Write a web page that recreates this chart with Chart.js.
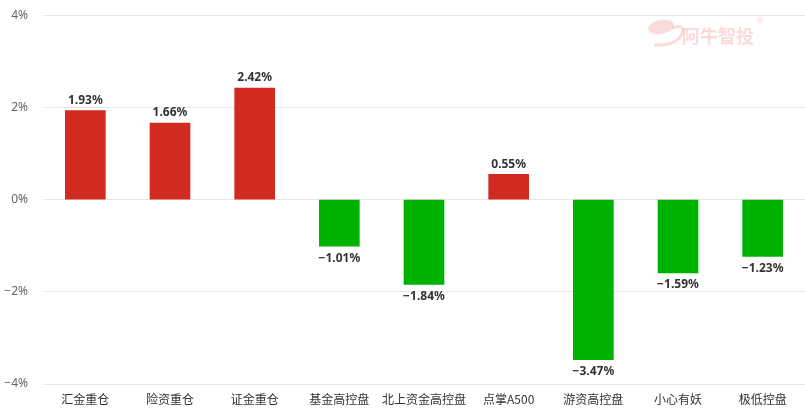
<!DOCTYPE html>
<html><head><meta charset="utf-8">
<script src="https://cdn.jsdelivr.net/npm/chart.js@4/dist/chart.umd.min.js"></script>
<style>html,body{margin:0;padding:0;background:#fff;overflow:hidden;width:805px;height:414px}#wrap{width:805px;height:421px;position:relative;top:-7px}</style>
</head><body><div id="wrap"><canvas id="c"></canvas></div>
<script>
const categories = ['汇金重仓','险资重仓','证金重仓','基金高控盘','北上资金高控盘','点掌A500','游资高控盘','小心有妖','极低控盘'];
const values = [1.93, 1.66, 2.42, -1.01, -1.84, 0.55, -3.47, -1.59, -1.23];
const tickValues = [4, 2, 0, -2, -4];
const RED = 'rgb(209,43,33)', GREEN = 'rgb(0,178,0)';
const fmt = v => (v < 0 ? '\u2212' + Math.abs(v).toFixed(2) : v.toFixed(2)) + '%';

const labelPlugin = {
  id: 'labels',
  afterDatasetsDraw(chart) {
    const ctx = chart.ctx;
    const meta = chart.getDatasetMeta(0);
    ctx.save();
    ctx.font = 'bold 12px "Noto Sans", "DejaVu Sans", sans-serif';
    ctx.fillStyle = '#333';
    ctx.textAlign = 'center';
    meta.data.forEach((bar, i) => {
      const v = values[i];
      if (v >= 0) { ctx.textBaseline = 'bottom'; ctx.fillText(fmt(v), bar.x, bar.y - 4); }
      else { ctx.textBaseline = 'top'; ctx.fillText(fmt(v), bar.x, bar.y + 6); }
    });
    ctx.restore();
  }
};
const watermark = {
  id: 'wm',
  beforeDatasetsDraw(chart) {
    const ctx = chart.ctx;
    const dy = 7;
    ctx.save();
    ctx.fillStyle = 'rgba(240,150,150,0.35)';
    ctx.strokeStyle = 'rgba(240,150,150,0.35)';
    ctx.beginPath();
    ctx.ellipse(661, 27 + dy, 13, 7, -0.2, 0, Math.PI * 2);
    ctx.fill();
    ctx.lineWidth = 3;
    ctx.beginPath();
    ctx.moveTo(672, 28 + dy); ctx.quadraticCurveTo(686, 24 + dy, 682, 34 + dy);
    ctx.quadraticCurveTo(676, 46 + dy, 654, 45 + dy);
    ctx.stroke();
    ctx.font = 'bold 18px "Noto Sans CJK SC", sans-serif';
    ctx.textBaseline = 'middle';
    ctx.textAlign = 'left';
    ctx.fillText('阿牛智投', 682, 36 + dy);
    ctx.font = '8px "DejaVu Sans", sans-serif';
    ctx.fillText('®', 756, 22 + dy);
    ctx.restore();
  }
};

new Chart(document.getElementById('c'), {
  type: 'bar',
  data: { labels: categories, datasets: [{ data: values,
    backgroundColor: values.map(v => v >= 0 ? RED : GREEN), barThickness: 40 }] },
  options: {
    responsive: true, maintainAspectRatio: false, animation: false,
    layout: { padding: { top: 7, right: 0, left: 0, bottom: 0 } },
    plugins: { legend: { display: false }, tooltip: { enabled: false } },
    scales: {
      x: { grid: { display: false, drawTicks: false }, border: { display: false },
        afterFit: (s) => { s.height = 30; },
        ticks: { color: '#333', maxRotation: 0, minRotation: 0, autoSkip: false,
          font: { size: 12, family: '"Noto Sans CJK SC", sans-serif' }, padding: 8 } },
      y: { min: -4, max: 4,
        afterBuildTicks: (s) => { s.ticks = tickValues.map(v => ({ value: v })); },
        afterFit: (s) => { s.width = 43; },
        grid: { color: '#e6e6e6', drawTicks: false }, border: { display: false },
        ticks: { color: '#666', font: { size: 12, family: '"Noto Sans", sans-serif' }, padding: 15,
          callback: v => (v < 0 ? '\u2212' + Math.abs(v) : v) + '%' } }
    }
  },
  plugins: [labelPlugin, watermark]
});
</script></body></html>
